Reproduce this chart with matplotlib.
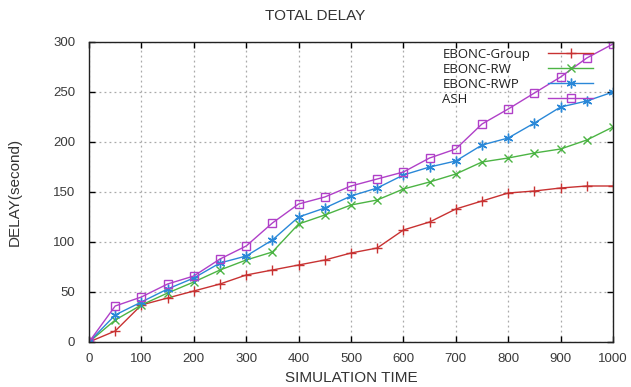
import matplotlib
matplotlib.use("Agg")
import matplotlib.pyplot as plt

x = [0, 50, 100, 150, 200, 250, 300, 350, 400, 450, 500,
     550, 600, 650, 700, 750, 800, 850, 900, 950, 1000]
group = [0, 11, 37, 44, 51, 58, 67, 72, 77, 82, 89,
         94, 112, 120, 133, 141, 149, 151, 154, 156, 156]
rw = [0, 22, 37, 49, 60, 72, 82, 90, 118, 127, 137,
      142, 153, 160, 168, 180, 184, 189, 193, 202, 215]
rwp = [0, 27, 40, 53, 64, 79, 86, 102, 125, 134, 146,
       154, 167, 175, 181, 197, 204, 219, 235, 241, 250]
ash = [0, 36, 45, 58, 66, 83, 96, 119, 138, 145, 156,
       163, 170, 184, 193, 218, 233, 249, 265, 284, 298]
labels = ["EBONC-Group", "EBONC-RW", "EBONC-RWP", "ASH"]
xticks = [0, 100, 200, 300, 400, 500, 600, 700, 800, 900, 1000]
yticks = [0, 50, 100, 150, 200, 250, 300]

plt.rcParams['font.family'] = ['Liberation Sans', 'DejaVu Sans']

fig = plt.figure(figsize=(6.31, 3.87), dpi=100)
ax = fig.add_axes([89/631, 1-342/387, (613-89)/631, (342-42)/387])

styles = [
    dict(color='#c83232', marker='+', ms=7, mew=1.0),
    dict(color='#4cb444', marker='x', ms=6, mew=1.0),
    dict(color='#2a88d8', marker=(6, 2, 0), ms=7, mew=1.0),
    dict(color='#b040c8', marker='s', ms=6, mew=1.0, mfc='none'),
]
for ys, lab, st in zip([group, rw, rwp, ash], labels, styles):
    ax.plot(x, ys, lw=1.0, label=lab, **st)

ax.set_xlim(0, 1000)
ax.set_ylim(0, 300)
ax.set_xticks(xticks)
ax.set_yticks(yticks)
ax.tick_params(direction='in', top=True, right=True, length=4, width=1,
               labelsize=9.5, labelcolor='#3a3a3a')
ax.tick_params(axis='x', pad=8)
ax.tick_params(axis='y', pad=10)
ax.grid(True, linestyle=(0, (1.5, 2.5)), color='#aaaaaa', lw=0.9)
for s in ax.spines.values():
    s.set_linewidth(1.0)
    s.set_color('#222222')

fig.text(0.5, 1-16/387, "TOTAL DELAY", ha='center', va='center',
         fontsize=11, color='#333333')
ax.set_xlabel("SIMULATION TIME", fontsize=11, color='#333333', labelpad=4)
ax.set_ylabel("DELAY(second)", fontsize=11, color='#333333')
ax.yaxis.set_label_coords(-0.128, 0.5)

leg = ax.legend(loc='upper right', bbox_to_anchor=(0.962, 0.98), frameon=False,
                markerfirst=False, handlelength=3.4,
                labelspacing=0.15, handletextpad=1.37, borderaxespad=0,
                borderpad=0, prop={'family': 'Open Sans', 'size': 9.5})
for t in leg.get_texts():
    t.set_color('#222222')

# left-align legend labels while keeping the line samples aligned on the right
fig.canvas.draw()
r = fig.canvas.get_renderer()
col = leg._legend_handle_box.get_children()[0]
col.align = 'left'
rows = col.get_children()
ws = [t.get_window_extent(r).width for t in leg.get_texts()]
mw = max(ws)
for row, w in zip(rows, ws):
    row.sep = row.sep + (mw - w) * 72.0 / fig.dpi

fig.savefig("out.png", dpi=100)
